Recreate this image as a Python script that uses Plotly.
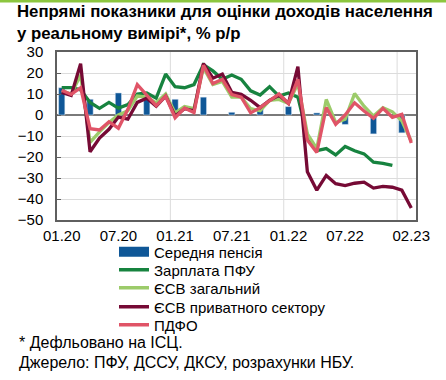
import plotly.graph_objects as go

# ---------------- data ----------------
months = ["01.20", "02.20", "03.20", "04.20", "05.20", "06.20", "07.20", "08.20", "09.20", "10.20", "11.20", "12.20",
          "01.21", "02.21", "03.21", "04.21", "05.21", "06.21", "07.21", "08.21", "09.21", "10.21", "11.21", "12.21",
          "01.22", "02.22", "03.22", "04.22", "05.22", "06.22", "07.22", "08.22", "09.22", "10.22", "11.22", "12.22",
          "01.23", "02.23"]

tick_months = ["01.20", "07.20", "01.21", "07.21", "01.22", "07.22", "02.23"]

pension = [13, None, None, 7.5, None, None, 10.5, None, None, 8, None, None,
           7.5, None, None, 8.5, None, None, 1.3, None, None, 3, None, None,
           4, None, None, 1, None, None, -4.5, None, None, -9, None, None,
           -8.5, None]

wage_pfu = [13, 13, 12, 6, 3.2, 6, 3.3, 5, 10, 10.5, 8, 19.5,
            13.5, 13, 14.5, 24, 21, 17, 19, 17, 11.5, 9.5, 13.5, 9,
            10.5, 8.5, -10, -17, -16, -19, -15, -17, -18.5, -22.5, -23, -24,
            None, None]

esv_total = [11.5, 10, 19, -13, -8, -3.6, 0, 2, 9, 8.5, 5.8, 10,
             1, 4, 3, 22.5, 14.5, 16, 8.5, 8.5, 3, 2, 7, 7.4,
             5.5, 15, -9, -16, 7.4, -3.6, -2, 10.2, 4.2, -0.5, 3.5, 1.5,
             -2.8, -12.5]

esv_private = [10.8, 9.3, 24.4, -17.5, -11, -6.8, -1, -2, 6, 8, 4.2, 9,
               -0.5, 3, 2, 24.5, 17.5, 19.5, 10.8, 9.8, 7, 3.5, 7, 9.4,
               5.6, 23, -27, -35.8, -28.8, -32.7, -33.6, -32.5, -32, -34.8, -34, -34.4,
               -35.8, -44.3]

pdfo = [11.8, 9.8, 13, -6.5, -7.1, -3.2, -6.3, 2.7, 14.5, 9.3, 4.5, 9,
        -1.3, 3.3, 1.1, 23.7, 15, 17, 9.7, 8.5, 1, 3.5, 7, 10,
        5.5, 17, -12, -17.8, 3.5, -4.4, 0, 5.8, 1.9, -1.6, 3.2, -1.1,
        0.3, -13.3]

names = ["Середня пенсія", "Зарплата ПФУ", "ЄСВ загальний", "ЄСВ приватного сектору", "ПДФО"]
title_text = "Непрямі показники для оцінки доходів населення<br>у реальному вимірі*, % р/р"
note1 = "* Дефльовано на ІСЦ."
note2 = "Джерело: ПФУ, ДССУ, ДКСУ, розрахунки НБУ."

# ---------------- style ----------------
C_BAR = "#0f5797"
C_WAGE = "#17833f"
C_TOTAL = "#9ccb6a"
C_PRIV = "#760a35"
C_PDFO = "#e05467"
FONT = "Liberation Sans, Arial, sans-serif"

W, H = 446, 380
PL, PR, PT, PB = 57, 416, 52, 220   # plot area in pixels
PW, PH = PR - PL, PB - PT


def px_x(x):
    return (x - PL) / PW


def px_y(y):
    return (PB - y) / PH


legend_ids = ["legend", "legend2", "legend3", "legend4", "legend5"]
legend_rows = [252, 270, 288, 307, 325]   # pixel centre of each legend row

fig = go.Figure()

fig.add_trace(go.Bar(x=months, y=pension, marker_color=C_BAR, width=0.66,
                     name=names[0], showlegend=False, legendgroup="p"))
# legend entry for the bars drawn as a wide thick stroke like the original
fig.add_trace(go.Scatter(x=[None], y=[None], mode="lines", line=dict(color=C_BAR, width=10),
                         name=names[0], legendgroup="p", legend=legend_ids[0]))

for k, (ys, col) in enumerate([(wage_pfu, C_WAGE), (esv_total, C_TOTAL),
                               (esv_private, C_PRIV), (pdfo, C_PDFO)], start=1):
    fig.add_trace(go.Scatter(x=months, y=ys, mode="lines", name=names[k],
                             line=dict(color=col, width=3.3), connectgaps=False,
                             legend=legend_ids[k]))

# vertical year gridlines between categories
for xv in [11.5, 23.5, 35.5]:
    fig.add_shape(type="line", xref="x", yref="paper", x0=xv, x1=xv, y0=0, y1=1,
                  line=dict(color="#dcdcdc", width=1), layer="below")

# top green strip
fig.add_shape(type="rect", xref="paper", yref="paper",
              x0=px_x(0), x1=px_x(W), y0=px_y(2.5), y1=px_y(0),
              line=dict(width=0), fillcolor="#8cc63f")

legend_common = dict(xanchor="left", yanchor="middle", bgcolor="rgba(0,0,0,0)",
                     itemwidth=30, font=dict(family=FONT, size=15), orientation="v")
layout_legends = {}
for lid, row in zip(legend_ids, legend_rows):
    layout_legends[lid] = dict(x=px_x(114), y=px_y(row), **legend_common)

fig.update_layout(
    width=W, height=H,
    margin=dict(l=PL, r=W - PR, t=PT, b=H - PB),
    paper_bgcolor="white", plot_bgcolor="white",
    font=dict(family=FONT, size=14, color="#000000"),
    showlegend=True,
    bargap=0.4,
    **layout_legends,
)

fig.update_xaxes(type="category", categoryorder="array", categoryarray=months,
                 range=[-0.5, 37.5], tickmode="array", tickvals=tick_months, ticktext=tick_months,
                 showgrid=False, ticks="", showline=True, linecolor="#5f5f5f", linewidth=1.5,
                 mirror=True, tickfont=dict(size=15), ticklabelstandoff=1)
fig.update_yaxes(range=[-50, 30], dtick=10, tick0=0, showgrid=True, gridcolor="#dcdcdc", gridwidth=1,
                 zeroline=True, zerolinecolor="#7a7a7a", zerolinewidth=2,
                 showline=True, linecolor="#5f5f5f", linewidth=1.5, mirror=True,
                 ticks="inside", ticklen=4, tickcolor="#5f5f5f", tickfont=dict(size=15),
                 ticklabelstandoff=9)

# title
fig.add_annotation(text=title_text, xref="paper", yref="paper", x=px_x(15), y=px_y(0),
                   xanchor="left", yanchor="top", align="left", showarrow=False,
                   font=dict(family=FONT, size=16.8, color="#000000", weight="bold"))
# footnotes
fig.add_annotation(text=note1, xref="paper", yref="paper", x=px_x(17), y=px_y(342),
                   xanchor="left", yanchor="middle", showarrow=False, font=dict(size=16))
fig.add_annotation(text=note2, xref="paper", yref="paper", x=px_x(17), y=px_y(362),
                   xanchor="left", yanchor="middle", showarrow=False, font=dict(size=16))

fig.write_html("out.html", config={"displayModeBar": False},
               post_script="document.body.style.margin='0px';")
